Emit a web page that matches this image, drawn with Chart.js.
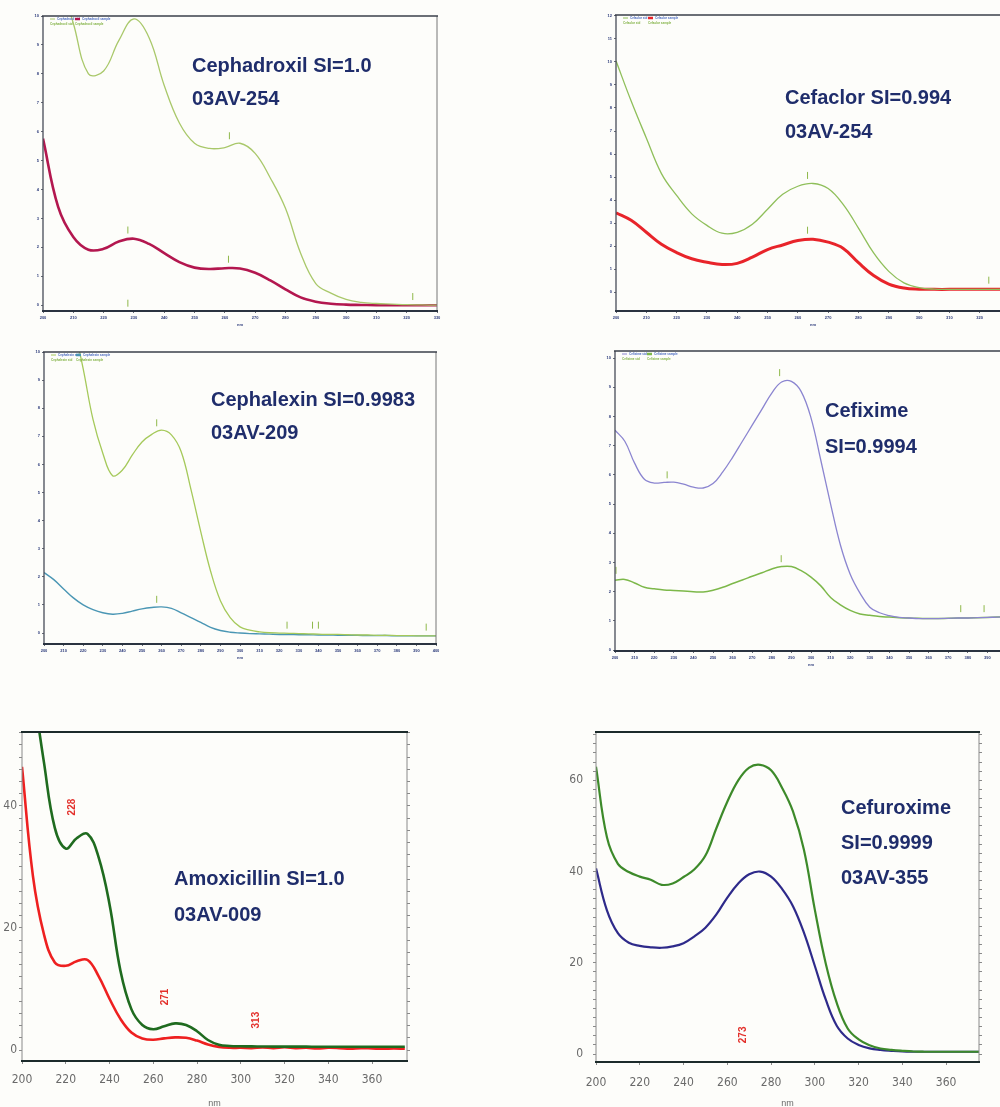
<!DOCTYPE html>
<html>
<head>
<meta charset="utf-8">
<script src="https://cdn.jsdelivr.net/npm/chart.js@4.4.1/dist/chart.umd.min.js"></script>
<style>
  html, body { margin: 0; padding: 0; background: #fdfdfa; width: 1000px; height: 1107px; overflow: hidden; }
  canvas { position: absolute; }
  .note { position: absolute; font: bold 20px "Liberation Sans", Arial, sans-serif; color: #1f2d6b; white-space: nowrap; }
</style>
</head>
<body>
<canvas id="c1"></canvas>
<canvas id="c2"></canvas>
<canvas id="c3"></canvas>
<canvas id="c4"></canvas>
<canvas id="c5"></canvas>
<canvas id="c6"></canvas>

<div class="note" style="left:192px;top:49px;line-height:33px">Cephadroxil SI=1.0<br>03AV-254</div>
<div class="note" style="left:785px;top:80px;line-height:34px">Cefaclor SI=0.994<br>03AV-254</div>
<div class="note" style="left:211px;top:383px;line-height:33px">Cephalexin SI=0.9983<br>03AV-209</div>
<div class="note" style="left:825px;top:392px;line-height:36px">Cefixime<br>SI=0.9994</div>
<div class="note" style="left:174px;top:860px;line-height:36px">Amoxicillin SI=1.0<br>03AV-009</div>
<div class="note" style="left:841px;top:790px;line-height:35px">Cefuroxime<br>SI=0.9999<br>03AV-355</div>

<script>
// wavelengths (nm)
const wlShort = [200, 205, 210, 215, 220, 225, 230, 235, 240, 245, 250, 255, 260, 265, 270,
  275, 280, 285, 290, 295, 300, 305, 310, 315, 320, 325, 330];
const wlLong = [200, 205, 210, 215, 220, 225, 230, 235, 240, 245, 250, 255, 260, 265, 270,
  275, 280, 285, 290, 295, 300, 305, 310, 315, 320, 325, 330, 335, 340, 345, 350, 355, 360,
  365, 370, 375, 380, 385, 390, 395, 400];
const wlUV = [200, 205, 210, 215, 220, 225, 230, 235, 240, 245, 250, 255, 260, 265, 270,
  275, 280, 285, 290, 295, 300, 305, 310, 315, 320, 325, 330, 335, 340, 345, 350, 355, 360,
  365, 370, 375];

// Cephadroxil
const cephadroxilStd = [13, 11.5, 9.75, 8.0, 8.1, 9.15, 9.9, 9.25, 7.6, 6.3, 5.6, 5.42, 5.45, 5.6,
  5.25, 4.4, 3.35, 1.8, 0.75, 0.42, 0.2, 0.1, 0.06, 0.04, 0.02, 0.01, 0];
const cephadroxilSmp = [5.76, 3.4, 2.36, 1.92, 1.95, 2.2, 2.3, 2.12, 1.8, 1.49, 1.3, 1.25, 1.28,
  1.27, 1.12, 0.86, 0.55, 0.27, 0.12, 0.05, 0.02, 0.01, 0, 0, 0, 0, 0];
const cephadroxilMarkX = [228, 261.5, 261.2, 228, 322];
const cephadroxilMarkY = [2.6, 5.86, 1.59, 0.07, 0.3];

// Cefaclor
const cefaclorStd = [10.05, 8.3, 6.7, 5.15, 4.2, 3.4, 2.9, 2.56, 2.6, 2.95, 3.6, 4.25, 4.6, 4.72,
  4.5, 3.8, 2.78, 1.7, 0.9, 0.4, 0.2, 0.13, 0.12, 0.12, 0.12, 0.12, 0.12];
const cefaclorSmp = [3.45, 3.12, 2.6, 2.08, 1.72, 1.45, 1.3, 1.2, 1.25, 1.52, 1.85, 2.05, 2.24,
  2.3, 2.17, 1.9, 1.28, 0.72, 0.35, 0.18, 0.13, 0.12, 0.12, 0.12, 0.12, 0.12, 0.12];
const cefaclorMarkX = [263.2, 263.2, 323];
const cefaclorMarkY = [5.07, 2.69, 0.52];

// Cephalexin
const cephalexinStd = [15, 13.8, 12.4, 11.0, 9.4, 7.6, 6.4, 5.6, 5.8, 6.33, 6.8, 7.07, 7.22, 7.05,
  6.45, 5.1, 3.6, 2.2, 1.15, 0.55, 0.22, 0.1, 0.04, 0.01, 0, -0.01, -0.02, -0.03, -0.04, -0.05,
  -0.05, -0.06, -0.07, -0.07, -0.08, -0.08, -0.09, -0.09, -0.1, -0.1, -0.1];
const cephalexinSmp = [2.15, 1.9, 1.57, 1.25, 1.0, 0.83, 0.72, 0.67, 0.7, 0.78, 0.86, 0.91, 0.93,
  0.88, 0.72, 0.55, 0.38, 0.2, 0.09, 0.03, 0, -0.02, -0.03, -0.04, -0.05, -0.05, -0.06, -0.06,
  -0.07, -0.07, -0.08, -0.08, -0.08, -0.09, -0.09, -0.09, -0.1, -0.1, -0.1, -0.1, -0.1];
const cephalexinMarkX = [257.5, 257.5, 324, 337, 340, 395];
const cephalexinMarkY = [7.48, 1.2, 0.28, 0.28, 0.28, 0.21];

// Cefixime
const cefiximeStd = [7.53, 7.15, 6.4, 5.85, 5.72, 5.74, 5.75, 5.68, 5.58, 5.55, 5.7, 6.1, 6.6,
  7.15, 7.7, 8.25, 8.8, 9.18, 9.2, 8.85, 7.95, 6.5, 5.0, 3.6, 2.6, 1.95, 1.47, 1.28, 1.18, 1.12,
  1.1, 1.08, 1.08, 1.08, 1.09, 1.1, 1.1, 1.11, 1.12, 1.13, 1.14];
const cefiximeSmp = [2.39, 2.42, 2.3, 2.15, 2.1, 2.06, 2.04, 2.02, 2.0, 1.99, 2.05, 2.15, 2.28,
  2.4, 2.53, 2.65, 2.78, 2.86, 2.86, 2.72, 2.5, 2.2, 1.8, 1.55, 1.36, 1.24, 1.19, 1.15, 1.13,
  1.11, 1.1, 1.09, 1.08, 1.08, 1.09, 1.1, 1.1, 1.11, 1.12, 1.13, 1.14];
const cefiximeMarkX = [284, 226.6, 284.8, 200.5, 376.4, 388.3];
const cefiximeMarkY = [9.5, 6.0, 3.13, 2.73, 1.42, 1.42];

// Amoxicillin
const amoxStd = [71.8, 59.5, 47.2, 36.4, 33.0, 34.7, 35.4, 31.6, 23.9, 13.0, 6.7, 4.1, 3.4, 3.9,
  4.36, 4.1, 3.08, 1.64, 0.87, 0.67, 0.62, 0.59, 0.57, 0.56, 0.56, 0.56, 0.55, 0.54, 0.54, 0.54,
  0.54, 0.54, 0.54, 0.54, 0.54, 0.54];
const amoxSmp = [46.4, 28.5, 19.0, 14.35, 13.8, 14.55, 14.75, 12.1, 8.4, 5.1, 2.87, 1.9, 1.69,
  1.9, 2.07, 2.0, 1.54, 0.92, 0.51, 0.36, 0.36, 0.31, 0.41, 0.31, 0.46, 0.31, 0.36, 0.26, 0.36,
  0.31, 0.2, 0.31, 0.26, 0.2, 0.26, 0.2];
const amoxPeakText = ["228", "271", "313"];
const amoxPeakX = [222.8, 265.3, 307.3];
const amoxPeakY = [39.8, 8.7, 4.9];

// Cefuroxime
const cefurStd = [63.0, 47.5, 41.7, 39.9, 38.9, 38.2, 37.1, 37.4, 38.8, 40.5, 43.5, 49.5, 55.3,
  60.0, 62.8, 63.4, 62.2, 58.4, 53.2, 44.8, 31.6, 19.8, 11.2, 5.6, 3.2, 1.9, 1.2, 0.9, 0.7, 0.55,
  0.5, 0.5, 0.5, 0.5, 0.5, 0.5];
const cefurSmp = [40.7, 31.5, 26.5, 24.4, 23.7, 23.4, 23.3, 23.6, 24.3, 25.8, 27.7, 30.6, 34.3,
  37.4, 39.4, 40.0, 38.9, 36.2, 32.4, 26.6, 19.3, 11.9, 6.2, 3.4, 2.0, 1.25, 0.9, 0.7, 0.55, 0.5,
  0.5, 0.5, 0.5, 0.5, 0.5, 0.5];
const cefurPeakText = ["273"];
const cefurPeakX = [267.1];
const cefurPeakY = [4.2];

// tick labels
const xTicksShort = [200, 210, 220, 230, 240, 250, 260, 270, 280, 290, 300, 310, 320, 330];
const xTicksLong = [200, 210, 220, 230, 240, 250, 260, 270, 280, 290, 300, 310, 320, 330, 340,
  350, 360, 370, 380, 390, 400];
const xTicksUV = [200, 220, 240, 260, 280, 300, 320, 340, 360];
const yTicks10 = [0, 1, 2, 3, 4, 5, 6, 7, 8, 9, 10];
const yTicks12 = [0, 1, 2, 3, 4, 5, 6, 7, 8, 9, 10, 11, 12];
const yTicksAmox = [0, 2, 4, 6, 8, 10, 12, 14, 16, 18, 20, 22, 24, 26, 28, 30, 32, 34, 36, 38, 40,
  42, 44, 46, 48, 50, 52];
const yTicksCefur = [0, 2, 4, 6, 8, 10, 12, 14, 16, 18, 20, 22, 24, 26, 28, 30, 32, 34, 36, 38, 40,
  42, 44, 46, 48, 50, 52, 54, 56, 58, 60, 62, 64, 66, 68, 70];
const yLabelsAmox = [0, 20, 40];
const yLabelsCefur = [0, 20, 40, 60];

function series(xs, ys) {
  return xs.map((x, i) => ({ x: x, y: ys[i] }));
}

function curve(label, xs, ys, color, width) {
  return {
    label: label, data: series(xs, ys), borderColor: color, borderWidth: width,
    pointRadius: 0, tension: 0.4, fill: false
  };
}

function marks(xs, ys, color) {
  return {
    type: "scatter", label: "marks", data: series(xs, ys), pointStyle: "line", rotation: 90,
    pointRadius: 3.5, borderColor: color, borderWidth: 1, showLine: false
  };
}

const smallFont = { family: "sans-serif", size: 4, weight: "bold" };
const uvFont = { family: "'Liberation Sans Narrow', 'DejaVu Sans Condensed', sans-serif", size: 12 };

function panel(id, box, p) {
  const cv = document.getElementById(id);
  const padT = 4;
  cv.width = box.r - box.l + p.yW + p.rW;
  cv.height = box.b - box.t + padT + p.xH;
  cv.style.left = (box.l - p.yW) + "px";
  cv.style.top = (box.t - padT) + "px";

  const scales = {
    x: {
      type: "linear", min: p.xMin, max: p.xMax,
      afterBuildTicks: (s) => { s.ticks = p.xTicks.map((v) => ({ value: v })); },
      afterFit: (s) => { s.height = p.xH; s.paddingLeft = 0; s.paddingRight = 0; },
      border: { display: false },
      grid: { drawOnChartArea: false, tickLength: p.tickLen, color: p.tickColor },
      ticks: { font: p.font, color: p.labelColor, padding: p.xPad, maxRotation: 0, autoSkip: false },
      title: { display: true, text: "nm", font: p.titleFont, color: p.labelColor, padding: 0 }
    },
    y: {
      min: p.yMin, max: p.yMax,
      afterBuildTicks: (s) => { s.ticks = p.yTicks.map((v) => ({ value: v })); },
      afterFit: (s) => { s.width = p.yW; s.paddingTop = 0; s.paddingBottom = 0; },
      border: { display: false },
      grid: { drawOnChartArea: false, tickLength: p.tickLen, color: p.tickColor },
      ticks: {
        font: p.font, color: p.labelColor, padding: p.yPad, autoSkip: false,
        callback: (v) => (!p.yLabels || p.yLabels.includes(v) ? String(v) : "")
      }
    }
  };
  if (p.rightAxis) {
    scales.yr = {
      position: "right", min: p.yMin, max: p.yMax,
      afterBuildTicks: (s) => { s.ticks = p.yTicks.map((v) => ({ value: v })); },
      afterFit: (s) => { s.width = p.rW; s.paddingTop = 0; s.paddingBottom = 0; },
      border: { display: false },
      grid: { drawOnChartArea: false, tickLength: p.tickLen, color: p.tickColor },
      ticks: { display: false }
    };
  }

  const frame = {
    id: "frame",
    afterDraw(chart) {
      const a = chart.chartArea, ctx = chart.ctx;
      const side = (s, x1, y1, x2, y2) => {
        ctx.strokeStyle = s[1]; ctx.lineWidth = s[0];
        ctx.beginPath(); ctx.moveTo(x1, y1); ctx.lineTo(x2, y2); ctx.stroke();
      };
      ctx.save();
      side(p.frame.left, a.left, a.top, a.left, a.bottom);
      side(p.frame.right, a.right, a.top, a.right, a.bottom);
      side(p.frame.top, a.left - 1, a.top, a.right + 1, a.top);
      side(p.frame.bottom, a.left - 1, a.bottom, a.right + 1, a.bottom);
      ctx.restore();
    }
  };

  // tiny instrument legend in the upper left corner of the plot
  const mini = {
    id: "mini",
    afterDraw(chart) {
      if (!p.mini) return;
      const a = chart.chartArea, ctx = chart.ctx;
      const curves = chart.data.datasets.filter((d) => d.type !== "scatter");
      ctx.save();
      ctx.font = "bold 3px sans-serif";
      ctx.textBaseline = "middle";
      curves.forEach((d, i) => {
        const x0 = a.left + 7 + i * 25;
        ctx.strokeStyle = d.borderColor;
        ctx.lineWidth = i === 0 ? 1 : 2.5;
        ctx.beginPath(); ctx.moveTo(x0, a.top + 3); ctx.lineTo(x0 + 5, a.top + 3); ctx.stroke();
        ctx.fillStyle = "#4a6ac0";
        ctx.fillText(d.label, x0 + 7, a.top + 3);
        ctx.fillStyle = "#7fb040";
        ctx.fillText(d.label, x0, a.top + 8);
      });
      ctx.restore();
    }
  };

  const peaks = {
    id: "peaks",
    afterDatasetsDraw(chart) {
      if (!p.peaks) return;
      const ctx = chart.ctx;
      ctx.save();
      ctx.fillStyle = "#e3302b";
      ctx.font = "bold 10px 'Liberation Sans', Arial, sans-serif";
      ctx.textAlign = "center";
      ctx.textBaseline = "middle";
      p.peaks.text.forEach((t, i) => {
        const px = chart.scales.x.getPixelForValue(p.peaks.x[i]);
        const py = chart.scales.y.getPixelForValue(p.peaks.y[i]);
        ctx.save();
        ctx.translate(px, py);
        ctx.rotate(-Math.PI / 2);
        ctx.fillText(t, 0, 0);
        ctx.restore();
      });
      ctx.restore();
    }
  };

  return new Chart(cv, {
    type: "line",
    data: { datasets: p.datasets },
    options: {
      responsive: false,
      animation: false,
      layout: { padding: { top: padT, right: p.rightAxis ? 0 : p.rW, left: 0, bottom: 0 } },
      plugins: { legend: { display: false }, tooltip: { enabled: false } },
      scales: scales
    },
    plugins: [frame, mini, peaks]
  });
}

const spectroFrame = {
  top: [1.5, "#3a3f4a"], bottom: [2, "#2a3340"], left: [1.3, "#474c58"], right: [1, "#777777"]
};
const uvFrame = {
  top: [2.2, "#1c2b2b"], bottom: [2.2, "#1c2b2b"], left: [1, "#8a8a8a"], right: [1, "#8a8a8a"]
};
const spectro = {
  yW: 20, rW: 4, xH: 16, tickLen: 2, tickColor: "#666a77", font: smallFont,
  titleFont: { family: "sans-serif", size: 4, weight: "bold" }, labelColor: "#2b3a7a",
  xPad: 2, yPad: 2, frame: spectroFrame, mini: true
};
const uv = {
  rW: 5, tickLen: 3, tickColor: "#8a8a8a", font: uvFont,
  titleFont: { family: "'Liberation Sans Narrow', sans-serif", size: 9 }, labelColor: "#6a6a6a",
  yPad: 2, frame: uvFrame, rightAxis: true
};

panel("c1", { l: 43, t: 15, r: 438, b: 311 }, Object.assign({}, spectro, {
  xMin: 200, xMax: 330, xTicks: xTicksShort, yMin: -0.2, yMax: 10, yTicks: yTicks10,
  datasets: [
    curve("Cephadroxil std", wlShort, cephadroxilStd, "#a9c86a", 1.3),
    curve("Cephadroxil sample", wlShort, cephadroxilSmp, "#b3174f", 2.6),
    marks(cephadroxilMarkX, cephadroxilMarkY, "#8fb84a")
  ]
}));

panel("c2", { l: 616, t: 14, r: 1011, b: 311 }, Object.assign({}, spectro, {
  xMin: 200, xMax: 330, xTicks: xTicksShort, yMin: -0.82, yMax: 12.04, yTicks: yTicks12,
  datasets: [
    curve("Cefaclor std", wlShort, cefaclorStd, "#8fbf5a", 1.3),
    curve("Cefaclor sample", wlShort, cefaclorSmp, "#e8242a", 3),
    marks(cefaclorMarkX, cefaclorMarkY, "#8fb84a")
  ]
}));

panel("c3", { l: 44, t: 351, r: 437, b: 644 }, Object.assign({}, spectro, {
  xMin: 200, xMax: 400, xTicks: xTicksLong, yMin: -0.39, yMax: 10, yTicks: yTicks10,
  datasets: [
    curve("Cephalexin std", wlLong, cephalexinStd, "#a5c95a", 1.3),
    curve("Cephalexin sample", wlLong, cephalexinSmp, "#4a96b4", 1.4),
    marks(cephalexinMarkX, cephalexinMarkY, "#8fb84a")
  ]
}));

panel("c4", { l: 615, t: 350, r: 1008, b: 651 }, Object.assign({}, spectro, {
  xMin: 200, xMax: 400, xTicks: xTicksLong, yMin: -0.03, yMax: 10.24, yTicks: yTicks10,
  datasets: [
    curve("Cefixime std", wlLong, cefiximeStd, "#8b85d0", 1.3),
    curve("Cefixime sample", wlLong, cefiximeSmp, "#7db84a", 1.5),
    marks(cefiximeMarkX, cefiximeMarkY, "#8fb84a")
  ]
}));

panel("c5", { l: 22, t: 732, r: 407, b: 1061 }, Object.assign({}, uv, {
  yW: 22, xH: 48, xPad: 9,
  xMin: 200, xMax: 376, xTicks: xTicksUV, yMin: -1.8, yMax: 52.1, yTicks: yTicksAmox,
  yLabels: yLabelsAmox,
  peaks: { text: amoxPeakText, x: amoxPeakX, y: amoxPeakY },
  datasets: [
    curve("Amoxicillin std", wlUV, amoxStd, "#1f6b1f", 2.6),
    curve("Amoxicillin sample", wlUV, amoxSmp, "#ee2020", 2.6)
  ]
}));

panel("c6", { l: 596, t: 732, r: 979, b: 1062 }, Object.assign({}, uv, {
  yW: 30, xH: 47, xPad: 11, yPad: 10,
  xMin: 200, xMax: 375, xTicks: xTicksUV, yMin: -1.75, yMax: 70.6, yTicks: yTicksCefur,
  yLabels: yLabelsCefur,
  peaks: { text: cefurPeakText, x: cefurPeakX, y: cefurPeakY },
  datasets: [
    curve("Cefuroxime std", wlUV, cefurStd, "#3d8a2a", 2.2),
    curve("Cefuroxime sample", wlUV, cefurSmp, "#2e2a8a", 2.2)
  ]
}));
</script>
</body>
</html>
